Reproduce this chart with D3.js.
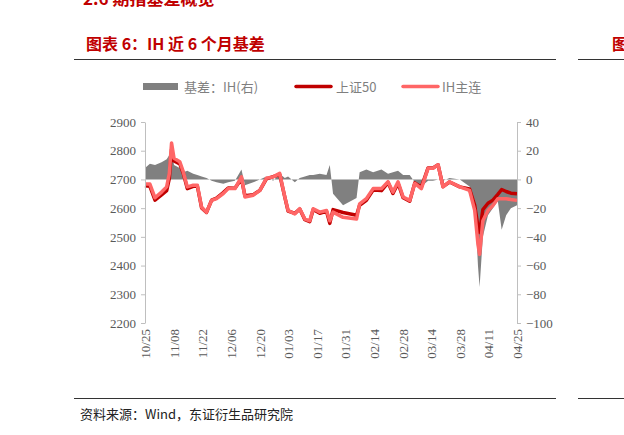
<!DOCTYPE html>
<html><head><meta charset="utf-8">
<script src="https://cdn.jsdelivr.net/npm/d3@7"></script>
<style>body{margin:0;background:#fff}svg{display:block}</style>
</head><body>
<svg id="chart" width="624" height="435"></svg>
<script>
// day offsets from 10/25
var days  = [0,2.4,4.9,8.1,10.6,11.9,13,14.2,17,18.7,20.7,23.6,25.6,27.7,30.1,32.6,35,38.3,40.7,44,47.2,48.9,53,56.2,59.4,62.7,65.9,68.4,70,73.3,75.7,78.2,80.6,82.3,85.5,88.8,90.4,92,96.9,103.5,105,108.3,111.6,115.7,118.9,121.3,123.8,126.3,129.5,132,135.2,138.5,140.9,143.4,145.8,149,154,158.8,161.3,162.9,163.7,165.3,167.8,170.2,172.6,174.5,176.7,179,182];
var ih    = [2684,2684,2636,2656,2674,2721,2827,2774,2762,2727,2674,2680,2680,2603,2586,2627,2633,2651,2668,2668,2709,2639,2645,2662,2704,2709,2721,2639,2592,2580,2598,2562,2556,2598,2586,2592,2556,2586,2568,2562,2615,2633,2668,2668,2692,2656,2692,2639,2627,2686,2668,2739,2739,2751,2674,2692,2674,2662,2592,2474,2439,2556,2592,2609,2633,2633,2633,2630,2627];
var sz50  = [2678,2676,2628,2646,2661,2704,2805,2764,2754,2722,2668,2676,2677,2601,2585,2628,2635,2654,2670,2669,2702,2643,2647,2662,2702,2710,2717,2638,2590,2582,2597,2560,2553,2595,2582,2589,2547,2595,2585,2575,2610,2627,2663,2661,2689,2651,2686,2636,2624,2688,2673,2740,2740,2751,2675,2691,2674,2667,2610,2535,2515,2595,2617,2628,2648,2665,2658,2652,2650];
var basis = [8,11,10,12,14,17,20,10,8,5,6,4,3,2,1,-1,-2,-3,-2,-1,7,-4,-2,0,2,-1,4,1,2,-2,1,2,3,3,4,3,10,-10,-18,-13,5,7,5,7,4,5,6,3,3,-2,-5,-1,-1,0,-1,1,0,-5,-15,-60,-75,-40,-25,-20,-15,-35,-25,-20,-18];
var tickDays = [0,14,28,42,56,70,84,98,112,126,140,154,168,182];
var tickLabels = ["10/25","11/08","11/22","12/06","12/20","01/03","01/17","01/31","02/14","02/28","03/14","03/28","04/11","04/25"];

var svg = d3.select("#chart");
var serif = "'Liberation Serif','DejaVu Serif',serif";
var cjk = "'Noto Sans CJK SC',sans-serif";

// header
svg.append("text").attr("x",83).attr("y",5).attr("fill","#c00000").attr("font-family",cjk)
  .attr("font-weight","bold").attr("font-size",17).text("2.6  期指基差概览");
svg.append("text").attr("x",86).attr("y",50).attr("fill","#c00000").attr("font-family",cjk)
  .attr("font-weight","bold").attr("font-size",16).text("图表 6：IH 近 6 个月基差");
svg.append("text").attr("x",612).attr("y",50).attr("fill","#c00000").attr("font-family",cjk)
  .attr("font-weight","bold").attr("font-size",16).text("图");
svg.append("line").attr("x1",74).attr("x2",556).attr("y1",59.5).attr("y2",59.5).attr("stroke","#333");
svg.append("line").attr("x1",578).attr("x2",624).attr("y1",59.5).attr("y2",59.5).attr("stroke","#333");
svg.append("line").attr("x1",74).attr("x2",556).attr("y1",398.5).attr("y2",398.5).attr("stroke","#333");
svg.append("line").attr("x1",578).attr("x2",624).attr("y1",398.5).attr("y2",398.5).attr("stroke","#333");
svg.append("text").attr("x",80).attr("y",419).attr("fill","#222").attr("font-family",cjk)
  .attr("font-size",13).text("资料来源：Wind，东证衍生品研究院");

var x = d3.scaleLinear().domain([0,182]).range([145,517]);
var yL = d3.scaleLinear().domain([2200,2900]).range([323,122]);
var yR = d3.scaleLinear().domain([-100,40]).range([323,122]);

// basis area
svg.append("path").datum(d3.range(days.length))
  .attr("fill","#808080")
  .attr("d", d3.area().x(i=>x(days[i])).y0(yR(0)).y1(i=>yR(basis[i])));

var line = function(arr){ return d3.line().x(i=>x(days[i])).y(i=>yL(arr[i])); };
svg.append("path").datum(d3.range(days.length)).attr("fill","none")
  .attr("stroke","#c00000").attr("stroke-width",3.5).attr("stroke-linejoin","round").attr("d",line(sz50));
svg.append("path").datum(d3.range(days.length)).attr("fill","none")
  .attr("stroke","#ff6666").attr("stroke-width",3.5).attr("stroke-linejoin","round").attr("d",line(ih));

// axes
function style(g){
  g.selectAll("path,line").attr("stroke","#bfbfbf");
  g.selectAll("text").attr("fill","#595959").attr("font-family",serif).attr("font-size",13);
}
svg.append("g").attr("transform","translate(145,0)")
  .call(d3.axisLeft(yL).tickValues(d3.range(2200,2901,100)).tickFormat(d3.format("d")).tickSize(4).tickSizeOuter(0).tickPadding(5)).call(style);
svg.append("g").attr("transform","translate(517,0)")
  .call(d3.axisRight(yR).tickValues(d3.range(-100,41,20)).tickFormat(d3.format("d")).tickSize(4).tickSizeOuter(0).tickPadding(5)).call(style);
var gx = svg.append("g").attr("transform","translate(0,"+yL(2200)+")")
  .call(d3.axisBottom(x).tickValues(tickDays).tickFormat((d,i)=>tickLabels[i]).tickSize(0).tickPadding(6)).call(style);
gx.select(".domain").remove();
gx.selectAll("text").attr("transform","rotate(-90)").attr("text-anchor","end")
  .attr("dx",-6).attr("dy","0.35em").attr("x",0).attr("y",0);

// legend
var lg = svg.append("g").attr("font-size",13).attr("fill","#7f7f7f");
lg.append("rect").attr("x",143).attr("y",83).attr("width",35).attr("height",7).attr("fill","#808080");
lg.append("text").attr("x",184).attr("y",92).attr("font-family",cjk).attr("font-size",13).text("基差：IH(右)");
lg.append("line").attr("x1",296).attr("x2",331).attr("y1",86.5).attr("y2",86.5).attr("stroke","#c00000").attr("stroke-width",3.5).attr("stroke-linecap","round");
lg.append("text").attr("x",336).attr("y",92).attr("font-family",cjk).attr("font-size",13).text("上证50");
lg.append("line").attr("x1",403).attr("x2",438).attr("y1",86.5).attr("y2",86.5).attr("stroke","#ff6666").attr("stroke-width",3.5).attr("stroke-linecap","round");
lg.append("text").attr("x",442).attr("y",92).attr("font-family",cjk).attr("font-size",13).text("IH主连");
</script>
</body></html>
